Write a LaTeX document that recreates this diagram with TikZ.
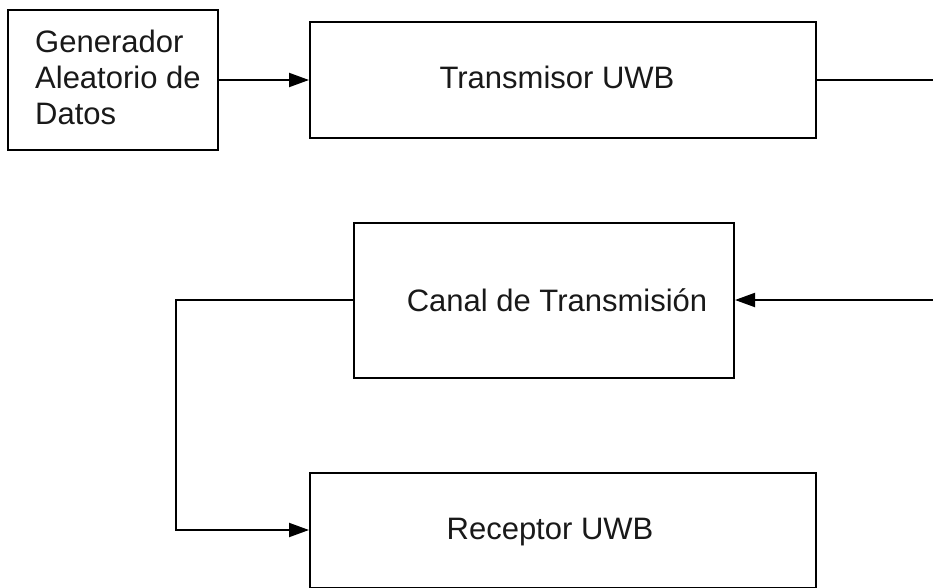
\documentclass[tikz,border=0pt]{standalone}
\usepackage{fontspec}
\setmainfont{Liberation Sans}
\usetikzlibrary{arrows.meta}
\tikzset{
  block/.style={draw=black, line width=2pt, fill=none, inner sep=0pt},
  txt/.style={font=\fontsize{31}{36}\selectfont, inner sep=0pt, text=black!90},
  link/.style={line width=2pt, draw=black},
  flow/.style={link, -{Triangle[length=20pt,width=14pt]}}
}
\begin{document}
\begin{tikzpicture}[x=1pt, y=-1pt]
  \clip (0,0) rectangle (933,588);
  \fill[white] (0,0) rectangle (933,588);

  % blocks
  \node[block, minimum width=210pt, minimum height=140pt] (gen) at (113,80) {};
  \node[block, minimum width=506pt, minimum height=116pt] (tx) at (563,80) {};
  \node[block, minimum width=380pt, minimum height=155pt] (ch) at (544,300) {};
  \node[block, minimum width=506pt, minimum height=115pt] (rx) at (563,530) {};

  % labels (the multi-line one sits on the baseline of its last line)
  \node[txt, anchor=base west, align=left] (gent) at (35,125) {Generador\\Aleatorio de\\Datos};
  \node[txt, anchor=base] (txt1) at (557,89) {Transmisor UWB};
  \node[txt, anchor=base] (cht) at (557,311) {Canal de Transmisión};
  \node[txt, anchor=base] (rxt) at (550,539) {Receptor UWB};

  % routing points beyond the right edge
  \coordinate (r1) at (945,80);
  \coordinate (r2) at (945,300);
  \coordinate (l1) at (176,300);
  \coordinate (l2) at (176,530);

  % connectors
  \draw[flow] (gen.east) -- (tx.west);
  \draw[flow] (tx.east) -- (r1) -- (r2) -- (ch.east);
  \draw[flow] (ch.west) -- (l1) -- (l2) -- (rx.west);
\end{tikzpicture}
\end{document}
